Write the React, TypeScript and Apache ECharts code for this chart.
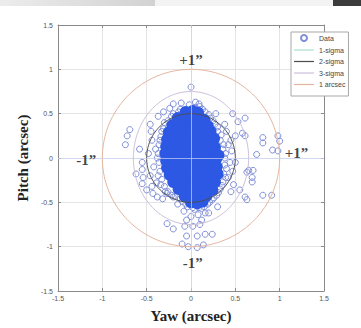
import React, { useEffect, useRef } from 'react';
import * as echarts from 'echarts';

const xTicks = [-1.5, -1, -0.5, 0, 0.5, 1, 1.5];
const yTicks = [-1.5, -1, -0.5, 0, 0.5, 1, 1.5];

// dense core of the pointing scatter (yaw, pitch) in arcsec
const coreData: number[][] = [
  [-0.06, 0.52], [0.02, 0.53], [0.08, 0.51],
  [-0.15, 0.45], [-0.07, 0.46], [0.01, 0.44], [0.09, 0.45], [0.15, 0.43],
  [-0.21, 0.37], [-0.13, 0.38], [-0.05, 0.36], [0.03, 0.38], [0.11, 0.37], [0.19, 0.36],
  [-0.25, 0.29], [-0.17, 0.3], [-0.09, 0.28], [-0.01, 0.3], [0.07, 0.29], [0.15, 0.28], [0.22, 0.3],
  [-0.27, 0.21], [-0.19, 0.22], [-0.11, 0.2], [-0.03, 0.21], [0.05, 0.22], [0.13, 0.2], [0.21, 0.21], [0.26, 0.22],
  [-0.28, 0.13], [-0.2, 0.12], [-0.12, 0.14], [-0.04, 0.13], [0.04, 0.12], [0.12, 0.14], [0.2, 0.13], [0.27, 0.12],
  [-0.29, 0.05], [-0.21, 0.06], [-0.13, 0.04], [-0.05, 0.05], [0.03, 0.06], [0.11, 0.04], [0.19, 0.05], [0.27, 0.06], [0.31, 0.03],
  [-0.28, -0.03], [-0.2, -0.02], [-0.12, -0.04], [-0.04, -0.03], [0.04, -0.02], [0.12, -0.04], [0.2, -0.03], [0.28, -0.02],
  [-0.27, -0.11], [-0.19, -0.1], [-0.11, -0.12], [-0.03, -0.11], [0.05, -0.1], [0.13, -0.12], [0.21, -0.11], [0.29, -0.1],
  [-0.24, -0.19], [-0.16, -0.18], [-0.08, -0.2], [0.0, -0.19], [0.08, -0.18], [0.16, -0.2], [0.24, -0.19], [0.3, -0.18],
  [-0.2, -0.27], [-0.12, -0.26], [-0.04, -0.28], [0.04, -0.27], [0.12, -0.26], [0.2, -0.28], [0.27, -0.27],
  [-0.14, -0.35], [-0.06, -0.34], [0.02, -0.36], [0.1, -0.35], [0.18, -0.34], [0.24, -0.36],
  [-0.07, -0.43], [0.01, -0.42], [0.09, -0.44], [0.17, -0.43],
  [0.0, -0.5], [0.07, -0.51], [0.13, -0.49],
];

// sparser samples around the core and outliers
const dataPoints: number[][] = [
  [-0.12, 0.55], [-0.02, 0.6], [0.1, 0.58], [0.16, 0.52], [-0.2, 0.5], [0.22, 0.45], [-0.26, 0.42], [0.27, 0.38],
  [-0.31, 0.33], [-0.34, 0.24], [-0.36, 0.15], [-0.37, 0.05], [-0.36, -0.05], [-0.35, -0.15], [-0.33, -0.24],
  [-0.3, -0.32], [-0.26, -0.38], [-0.4, 0.1], [-0.42, -0.1], [-0.39, -0.28],
  [0.3, 0.3], [0.33, 0.2], [0.36, 0.1], [0.38, 0.0], [0.38, -0.08], [0.37, -0.18], [0.36, -0.27], [0.33, -0.35],
  [0.29, -0.42], [0.42, 0.15], [0.44, -0.05], [0.42, -0.22], [0.4, 0.3],
  [-0.18, -0.43], [-0.1, -0.49], [-0.04, -0.55], [0.04, -0.58], [0.12, -0.57], [0.19, -0.52], [0.24, -0.47],
  [-0.15, -0.52], [0.08, -0.64], [0.0, -0.66], [0.16, -0.62], [-0.08, -0.6],
  [-0.3, 0.4], [-0.22, 0.47], [-0.14, 0.52], [0.05, 0.57], [0.13, 0.55], [0.2, 0.49], [0.25, 0.42], [0.3, 0.35],
  [-0.33, 0.3], [-0.35, 0.2], [-0.38, 0.0], [-0.37, -0.2], [-0.34, -0.3], [-0.29, -0.38], [-0.22, -0.42],
  [0.34, 0.26], [0.37, 0.15], [0.39, 0.05], [0.4, -0.12], [0.39, -0.22], [0.35, -0.31], [0.31, -0.39],
  [0.26, -0.45], [0.21, -0.5], [-0.12, -0.46], [-0.06, -0.52], [0.02, -0.56], [0.09, -0.56], [0.15, -0.55],
  [-0.44, 0.2], [-0.46, -0.2], [-0.44, -0.32], [0.46, 0.08], [0.47, -0.15], [0.45, -0.38], [0.38, 0.38],
  [-0.32, -0.46], [-0.24, 0.56], [0.28, 0.5], [0.2, -0.62], [-0.05, -0.7], [0.12, -0.7], [0.3, -0.55],
  [-0.46, 0.38], [0.5, 0.25],
  [0.0, 0.8], [-0.2, 0.61], [-0.11, 0.62], [0.05, 0.63], [0.09, 0.61], [-0.31, 0.52], [-0.37, 0.47],
  [-0.69, 0.32], [-0.72, 0.25], [-0.74, 0.15], [-0.55, -0.05], [-0.55, -0.13], [-0.54, -0.22], [-0.55, -0.29],
  [-0.5, -0.36], [-0.43, -0.4], [-0.38, -0.44], [-0.27, -0.4], [-0.2, -0.44],
  [-0.27, -0.74], [-0.2, -0.8], [-0.07, -0.77], [0.02, -0.77], [0.1, -0.75], [-0.05, -0.88], [0.07, -0.88],
  [0.16, -0.86], [0.24, -0.86], [-0.1, -0.97], [-0.03, -1.0], [0.07, -1.01], [0.14, -0.98],
  [0.58, 0.28], [0.61, 0.25], [0.81, 0.23], [0.81, 0.17], [0.92, 0.09], [0.98, 0.08], [1.0, 0.19], [0.98, 0.25],
  [0.74, 0.04], [0.63, -0.16], [0.69, -0.22], [0.69, -0.27], [0.55, -0.36], [0.61, -0.44], [0.81, -0.42],
  [0.91, -0.42], [0.63, -0.47], [0.65, -0.14], [0.7, -0.14], [0.47, 0.5], [0.53, 0.41], [0.61, 0.45],
  [0.45, 0.2], [0.5, -0.05], [0.48, -0.3], [-0.45, 0.3], [-0.48, 0.05], [-0.62, -0.18], [-0.58, 0.1],
];

const ringNames = ['1-sigma', '2-sigma', '3-sigma', '1 arcsec'];
const ringRx = [0.25, 0.5, 0.65, 1];
const ringRy = [0.28, 0.5, 0.75, 1];
const ringColors = ['#a9dcc6', '#4d4d4d', '#cdbfdc', '#e4b59e'];

const annotText = ['+1”', '+1”', '-1”', '-1”'];
const annotX = [0.0, 1.19, -1.18, 0.02];
const annotY = [1.11, 0.06, -0.02, -1.18];

function ellipse(rx: number, ry: number): number[][] {
  const pts: number[][] = [];
  const n = 180;
  for (let k = 0; k <= n; k++) {
    const t = (2 * Math.PI * k) / n;
    pts.push([rx * Math.cos(t), ry * Math.sin(t)]);
  }
  return pts;
}

export default function App() {
  const ref = useRef<HTMLDivElement>(null);
  useEffect(() => {
    if (!ref.current) return;
    const chart = echarts.init(ref.current, undefined, { renderer: 'svg' });
    const axisCommon = {
      type: 'value' as const,
      interval: 0.5,
      axisLine: { show: true, onZero: false, lineStyle: { color: '#8a8a8a', width: 1 } },
      axisTick: { show: true, inside: true, length: 3, lineStyle: { color: '#8a8a8a' } },
    };
    const labelStyle = { fontSize: 7, color: '#555', fontFamily: 'Liberation Sans' };
    const nameStyle = { fontFamily: 'Liberation Serif', fontWeight: 'bold' as const, fontSize: 15, color: '#222' };
    const lineIcon = 'path://M0 0H20V1.2H0Z';
    chart.setOption({
      animation: false,
      backgroundColor: '#ffffff',
      graphic: [
        {
          type: 'rect', left: 0, top: 0, shape: { width: 155, height: 6 },
          style: {
            fill: new echarts.graphic.LinearGradient(0, 0, 1, 0, [
              { offset: 0, color: '#ececec' }, { offset: 1, color: '#d2d2d2' },
            ]),
          },
        },
        { type: 'rect', left: 155, top: 0, shape: { width: 178, height: 6 }, style: { fill: '#f3f3f3' } },
        { type: 'rect', left: 333, top: 0, shape: { width: 28, height: 6 }, style: { fill: '#3c3c3c' } },
      ],
      grid: { left: 58, top: 25, width: 266, height: 271, containLabel: false },
      xAxis: [
        {
          ...axisCommon,
          min: xTicks[0], max: xTicks[xTicks.length - 1], position: 'bottom',
          axisLabel: { ...labelStyle, margin: 4 },
          splitLine: { show: true, lineStyle: { color: '#e4e4e4', width: 1 } },
          name: 'Yaw (arcsec)', nameLocation: 'middle', nameGap: 17, nameTextStyle: nameStyle,
        },
        {
          ...axisCommon,
          min: xTicks[0], max: xTicks[xTicks.length - 1], position: 'top',
          axisLabel: { show: false }, splitLine: { show: false },
        },
      ],
      yAxis: [
        {
          ...axisCommon,
          min: yTicks[0], max: yTicks[yTicks.length - 1], position: 'left',
          axisLabel: { ...labelStyle, margin: 5 },
          splitLine: { show: true, lineStyle: { color: '#e4e4e4', width: 1 } },
          name: 'Pitch (arcsec)', nameLocation: 'middle', nameGap: 18, nameRotate: 90, nameTextStyle: nameStyle,
        },
        {
          ...axisCommon,
          min: yTicks[0], max: yTicks[yTicks.length - 1], position: 'right',
          axisLabel: { show: false }, splitLine: { show: false },
        },
      ],
      legend: {
        data: [
          { name: 'Data', icon: 'circle' },
          ...ringNames.map((n) => ({ name: n, icon: lineIcon })),
        ],
        orient: 'vertical',
        left: 291,
        top: 32,
        itemWidth: 20,
        itemHeight: 6,
        itemGap: 4.5,
        padding: [2, 3, 8, 3],
        backgroundColor: '#ffffff',
        borderColor: '#a8a8a8',
        borderWidth: 1,
        borderRadius: 0,
        textStyle: { fontSize: 7, color: '#444', fontFamily: 'Liberation Sans', lineHeight: 6 },
        z: 10,
      },
      series: [
        {
          name: 'Data',
          type: 'scatter',
          symbol: 'circle',
          symbolSize: 6,
          data: dataPoints,
          itemStyle: { color: 'rgba(255,255,255,0)', borderColor: '#7f8ed8', borderWidth: 1, opacity: 1 },
          z: 2,
        },
        {
          name: 'core',
          type: 'scatter',
          symbol: 'circle',
          symbolSize: 12,
          data: coreData,
          itemStyle: { color: '#2d58e4', opacity: 1, borderWidth: 0 },
          z: 3,
          markLine: {
            silent: true,
            symbol: 'none',
            label: { show: false },
            lineStyle: { color: 'rgba(200,212,245,0.7)', type: 'solid', width: 1 },
            data: [{ xAxis: 0 }, { yAxis: 0 }],
          },
        },
        ...ringNames.map((nm, i) => ({
          name: nm,
          type: 'line',
          data: ellipse(ringRx[i], ringRy[i]),
          symbol: 'none',
          smooth: false,
          lineStyle: { color: ringColors[i], width: 1 },
          itemStyle: { color: ringColors[i] },
          z: i === 0 ? 1 : 4,
        })),
        {
          name: 'annotations',
          type: 'scatter',
          symbolSize: 0,
          data: annotText.map((t, i) => ({ name: t, value: [annotX[i], annotY[i]] })),
          label: {
            show: true,
            position: 'inside',
            formatter: '{b}',
            fontFamily: 'Liberation Serif',
            fontWeight: 'bold',
            fontSize: 15,
            color: '#111',
          },
          z: 6,
        },
      ],
    });
    return () => chart.dispose();
  }, []);
  return (
    <div
      ref={ref}
      style={{ position: 'fixed', left: 0, top: 0, width: 361, height: 328 }}
    />
  );
}
